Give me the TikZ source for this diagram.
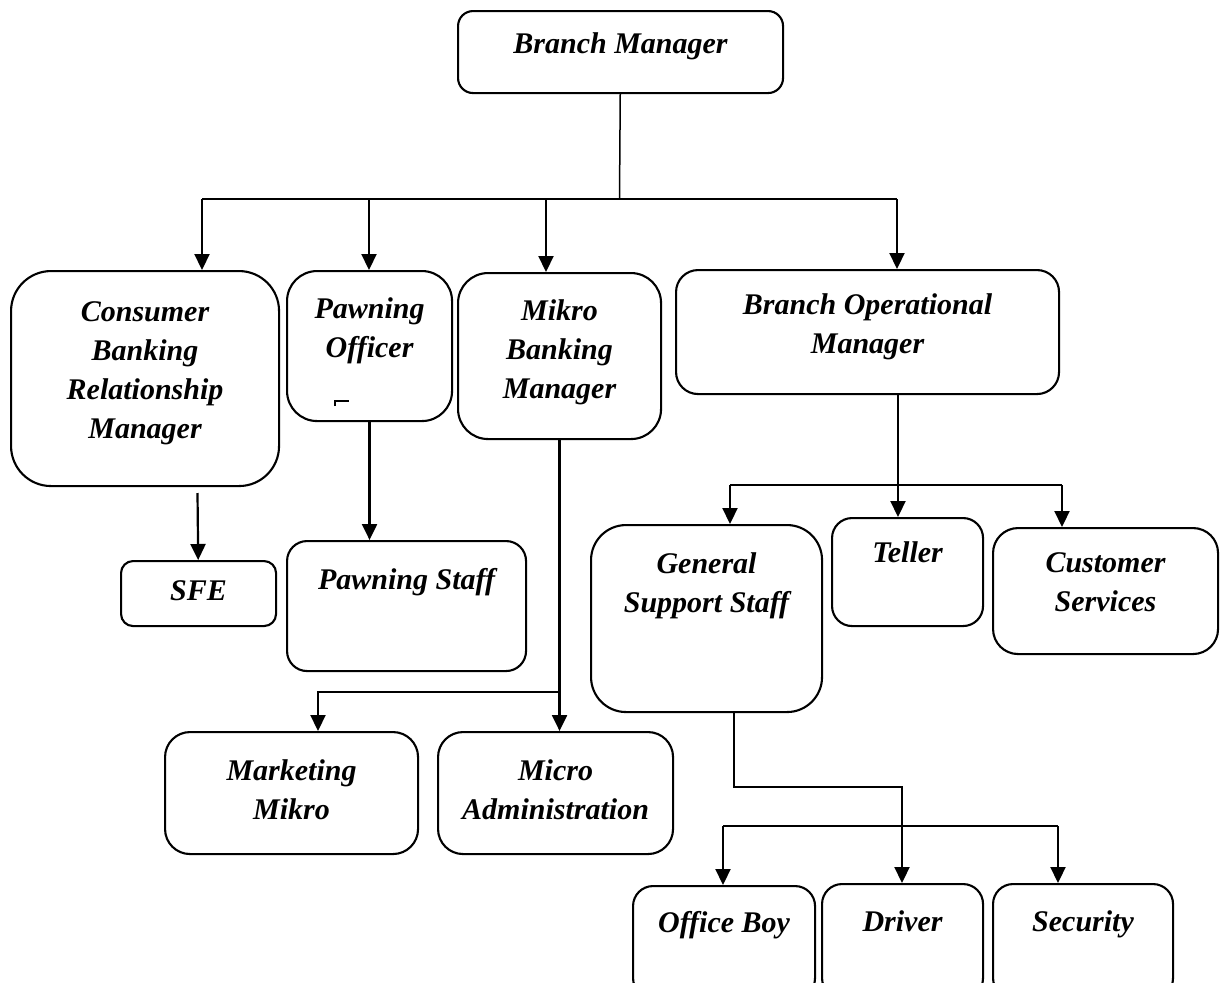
\documentclass[tikz,border=0pt]{standalone}
\usepackage{fontspec}
\setmainfont{Liberation Serif}
\usetikzlibrary{arrows.meta}

\tikzset{
	box/.style={draw, line width=2.1pt, anchor=north west, inner sep=0pt},
	lbl/.style={inner sep=0pt, align=center, font=\bfseries\itshape\fontsize{30}{39}\selectfont},
	link/.style={line width=2.2pt},
	arr/.style={line width=2.2pt, -{Triangle[length=16pt,width=15pt]}},
}

\begin{document}
\begin{tikzpicture}[x=1pt, y=-1pt]
		\useasboundingbox (0,0) rectangle (1227,983);
		\clip (0,0) rectangle (1227,983);
		
		%Top
		\node[box, rounded corners=15pt, minimum width=325pt, minimum height=82pt, label={[lbl, below=22pt]north:Branch Manager}] (bm) at (457,10) {};
		
		%Second row
		\node[box, rounded corners=40pt, minimum width=268pt, minimum height=215pt, label={[lbl, below=31pt]north:{Consumer\\Banking\\Relationship\\Manager}}] (cbrm) at (10,270) {};
		\node[box, rounded corners=30pt, minimum width=165pt, minimum height=150pt, label={[lbl, below=27pt]north:{Pawning\\Officer}}] (po) at (286,270) {};
		\node[box, rounded corners=30pt, minimum width=203pt, minimum height=166pt, label={[lbl, below=27pt]north:{Mikro\\Banking\\Manager}}] (mbm) at (457,272) {};
		\node[box, rounded corners=22pt, minimum width=383pt, minimum height=124pt, label={[lbl, below=24pt]north:{Branch Operational\\Manager}}] (bom) at (675,269) {};
		
		%Third row
		\node[box, rounded corners=12pt, minimum width=155pt, minimum height=65pt, label={[lbl, below=20pt]north:SFE}] (sfe) at (120,560) {};
		\node[box, rounded corners=20pt, minimum width=239pt, minimum height=130pt, label={[lbl, below=28pt]north:Pawning Staff}] (ps) at (286,540) {};
		\node[box, rounded corners=35pt, minimum width=231pt, minimum height=187pt, label={[lbl, below=28pt]north:{General\\Support Staff}}] (gss) at (590,524) {};
		\node[box, rounded corners=20pt, minimum width=151pt, minimum height=108pt, label={[lbl, below=24pt]north:Teller}] (tel) at (831,517) {};
		\node[box, rounded corners=25pt, minimum width=225pt, minimum height=126pt, label={[lbl, below=25pt]north:{Customer\\Services}}] (cs) at (992,527) {};
		
		%Fourth row
		\node[box, rounded corners=25pt, minimum width=253pt, minimum height=122pt, label={[lbl, below=28pt]north:{Marketing\\Mikro}}] (mm) at (164,731) {};
		\node[box, rounded corners=25pt, minimum width=235pt, minimum height=122pt, label={[lbl, below=28pt]north:{Micro\\Administration}}] (ma) at (437,731) {};
		
		%Bottom row
		\node[box, rounded corners=20pt, minimum width=182pt, minimum height=112pt, label={[lbl, below=26pt]north:Office Boy}] (ob) at (632,885) {};
		\node[box, rounded corners=20pt, minimum width=161pt, minimum height=114pt, label={[lbl, below=27pt]north:Driver}] (dr) at (821,883) {};
		\node[box, rounded corners=20pt, minimum width=180pt, minimum height=114pt, label={[lbl, below=27pt]north:Security}] (sec) at (992,883) {};
		
		%Coordinates
		\coordinate (top) at (619.5,199);
		\coordinate (b1) at (202,199);
		\coordinate (b2) at (369,199);
		\coordinate (b3) at (546,199);
		\coordinate (b4) at (897,199);
		\coordinate (s0) at (197.5,493);
		\coordinate (m1) at (318,692);
		\coordinate (o0) at (898,485);
		\coordinate (o1) at (730,485);
		\coordinate (o2) at (1062,485);
		\coordinate (g0) at (734,787);
		\coordinate (g1) at (902,787);
		\coordinate (g2) at (723,826);
		\coordinate (g3) at (1058,826);
		
		%Links
		\draw[line width=1.5pt] (bm) -- (top);
		\draw[link] (b1) -- (b4);
		\foreach \c/\n in {b1/cbrm, b2/po, b3/mbm, b4/bom}
		{
			\draw[arr] (\c) -- (\c |- \n.north);
		}
		\draw[arr] (s0) -- (sfe);
		\draw[arr] (po.south) -- (po.south |- ps.north);
		\draw[arr] (mbm.south) -- (mbm.south |- ma.north);
		\draw[arr] (mbm.south |- m1) -- (m1) -- (m1 |- mm.north);
		\draw[arr] (o0 |- bom.south) -- (o0 |- tel.north);
		\draw[link] (o1) -- (o2);
		\foreach \c/\n in {o1/gss, o2/cs}
		{
			\draw[arr] (\c) -- (\c |- \n.north);
		}
		\draw[arr] (g0 |- gss.south) -- (g0) -- (g1) -- (g1 |- dr.north);
		\draw[link] (g2) -- (g3);
		\foreach \c/\n in {g2/ob, g3/sec}
		{
			\draw[arr] (\c) -- (\c |- \n.north);
		}
		
		%Stray mark
		\draw[line width=1.5pt] (335,406) -- (335,401) -- (349,401);
		
	\end{tikzpicture}
\end{document}
